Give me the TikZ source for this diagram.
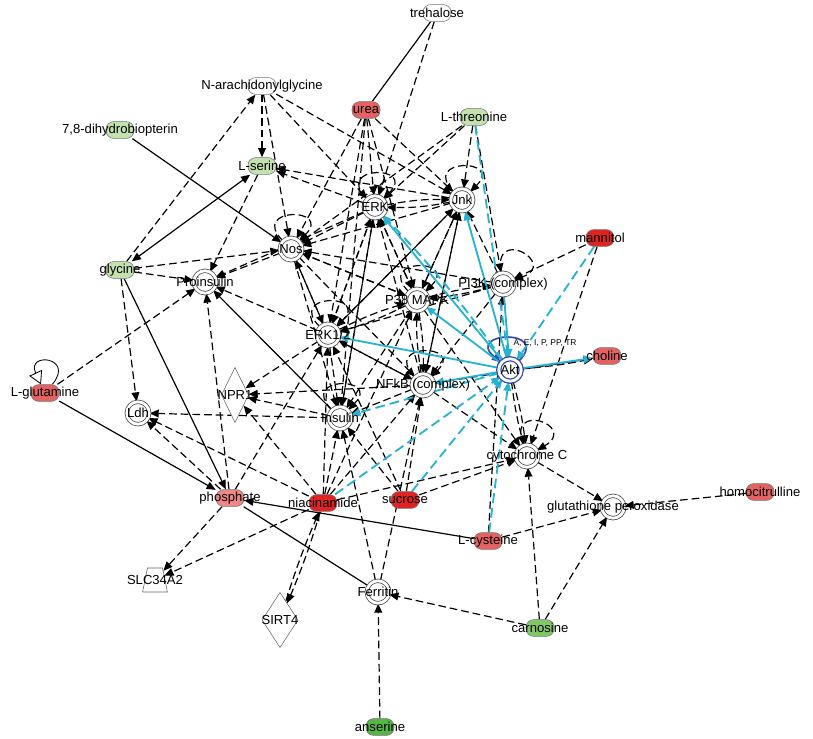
\documentclass[tikz,border=0pt]{standalone}
\usepackage{fontspec}
\setmainfont{Liberation Sans}
\usetikzlibrary{shapes,shapes.geometric,arrows.meta,backgrounds}
\definecolor{netred}{HTML}{E02424}
\definecolor{netsalmon}{HTML}{E46262}
\definecolor{netpink}{HTML}{F08686}
\definecolor{netpale}{HTML}{C4E2B0}
\definecolor{netgreen}{HTML}{80C865}
\definecolor{netdkgreen}{HTML}{55B545}
\definecolor{netcyan}{HTML}{25B3D1}
\definecolor{netblue}{HTML}{3A48B0}

\begin{document}
\begin{tikzpicture}[x=0.025cm, y=0.025cm, font=\fontsize{9.3}{11}\selectfont,
    >={Triangle[length=6.5pt, width=5.5pt]},
    chem/.style={rectangle, rounded corners=5.5pt, draw=black!55, minimum width=0.7cm, minimum height=0.42cm, inner sep=0pt},
    prot/.style={circle, draw=black!75, fill=white, double, double distance=2pt, line width=0.5pt, minimum size=0.56cm, inner sep=0pt},
    rel/.style={->, black, line width=0.85pt, dash pattern=on 5.5pt off 2.8pt},
    link/.style={black, line width=0.85pt},
    aktline/.style={->, netcyan, line width=1.3pt},
    aktdash/.style={->, netcyan, line width=1.3pt, dash pattern=on 7pt off 3.5pt},
    selfloop/.style={rel, out=135, in=45, looseness=1, min distance=1.2cm}]
    \useasboundingbox (0,0) rectangle (813,738);

    % Chemicals
    \node[chem, fill=white, label=center:{trehalose}] (treh) at (437,725) {};
    \node[chem, fill=white, label=center:{N-arachidonylglycine}] (nag) at (262,652) {};
    \node[chem, fill=netsalmon, label=center:{urea}] (urea) at (366,628) {};
    \node[chem, fill=netpale, label=center:{L-threonine}] (thr) at (474,621) {};
    \node[chem, fill=netpale, label=center:{7,8-dihydrobiopterin}] (dhb) at (120,608) {};
    \node[chem, fill=netpale, label=center:{L-serine}] (ser) at (262,572) {};
    \node[chem, fill=netpale, label=center:{glycine}] (gly) at (120,468) {};
    \node[chem, fill=netred, label=center:{mannitol}] (mann) at (600,500) {};
    \node[chem, fill=netsalmon, label=center:{choline}] (chol) at (607,382) {};
    \node[chem, fill=netsalmon, label=center:{L-glutamine}] (gln) at (45,345) {};
    \node[chem, fill=netpink, label=center:{phosphate}] (phos) at (230,240) {};
    \node[chem, fill=netred, label=center:{niacinamide}] (niac) at (323,235) {};
    \node[chem, fill=netred, label=center:{sucrose}] (sucr) at (405,238) {};
    \node[chem, fill=netsalmon, label=center:{L-cysteine}] (cys) at (488,197) {};
    \node[chem, fill=netsalmon, label=center:{homocitrulline}] (hcit) at (760,246) {};
    \node[chem, fill=netgreen, label=center:{carnosine}] (carn) at (540,110) {};
    \node[chem, fill=netdkgreen, label=center:{anserine}] (anser) at (380,11) {};

    % Proteins and complexes
    \node[prot, label=center:{ERK}] (erk) at (375,531) {};
    \node[prot, label=center:{Jnk}] (jnk) at (462,538) {};
    \node[prot, label=center:{Nos}] (nos) at (291,489) {};
    \node[prot, label=center:{Proinsulin}] (proins) at (205,456) {};
    \node[prot, label=center:{PI3K (complex)}] (pi3k) at (503,454) {};
    \node[prot, label=center:{P38 MAPK}] (p38) at (417,438) {};
    \node[prot, label=center:{ERK1/2}] (erk12) at (328,403) {};
    \node[prot, draw=netblue, line width=0.9pt, label=center:{Akt}] (akt) at (510,368) {};
    \node[font=\fontsize{6}{7}\selectfont] (aktsites) at (545,395) {A, E, I, P, PP, TR};
    \node[prot, label=center:{NFkB (complex)}] (nfkb) at (423,353) {};
    \node[prot, label=center:{Ldh}] (ldh) at (138,325) {};
    \node[prot, label=center:{Insulin}] (ins) at (340,320) {};
    \node[prot, label=center:{cytochrome C}] (cytc) at (527,282) {};
    \node[prot, label=center:{glutathione peroxidase}] (gpx) at (613,231) {};
    \node[prot, label=center:{Ferritin}] (ferr) at (378,146) {};
    \node[diamond, draw=black!60, fill=white, minimum width=0.68cm, minimum height=1.38cm, inner sep=0pt, label=center:{NPR1}] (npr1) at (235,343) {};
    \node[diamond, draw=black!60, fill=white, minimum width=0.9cm, minimum height=1.38cm, inner sep=0pt, label=center:{SIRT4}] (sirt4) at (280,118) {};
    \node[trapezium, draw=black!60, fill=white, trapezium left angle=72, trapezium right angle=72, trapezium stretches=true, minimum width=0.62cm, minimum height=0.6cm, inner sep=1pt, label=center:{SLC34A2}] (slc) at (155,158) {};

    \begin{scope}[on background layer]
    % Plain links
    \draw[link] (treh) -- (urea);
    \draw[link, ->] (dhb) -- (nos);
    \draw[link, <->] (gly) -- (ser);
    \draw[link, ->] (gly) -- (phos);
    \draw[link, ->] (gln) -- (phos);
    \draw[link, ->] (cys) -- (phos);
    \draw[link] (phos) -- (ferr);
    \draw[link, ->] (ins) -- (proins);
    \draw[black, line width=0.6pt, -{Triangle[open, length=9pt, width=10pt]}] (gln) to[out=50, in=115, looseness=1, min distance=0.9cm] (gln);

    % Self loops
    \draw[selfloop] (erk) to (erk);
    \draw[selfloop] (jnk) to (jnk);
    \draw[selfloop] (nos) to (nos);
    \draw[selfloop] (p38) to (p38);
    \draw[selfloop] (erk12) to (erk12);
    \draw[selfloop] (nfkb) to (nfkb);
    \draw[selfloop] (ins) to (ins);
    \draw[selfloop, out=100, in=20] (pi3k) to (pi3k);
    \draw[selfloop, out=110, in=30] (cytc) to (cytc);
    \draw[->, netblue, line width=1.2pt, out=45, in=140, looseness=1, min distance=1.2cm] (akt) to (akt);

    % Upper chemicals
    \draw[rel] (gly) -- (nag);
    \draw[rel] (nag) -- (ser);
    \draw[rel] (nag) -- (nos);
    \draw[rel] (nag) -- (erk);
    \draw[rel] (nag) -- (jnk);
    \draw[rel] (treh) -- (erk);
    \draw[rel] (urea) -- (erk);
    \draw[rel] (urea) -- (jnk);
    \draw[rel] (urea) -- (nos);
    \draw[rel] (urea) -- (p38);
    \draw[rel] (urea) -- (erk12);
    \draw[rel] (urea) -- (ins);
    \draw[rel] (thr) -- (erk);
    \draw[rel] (thr) -- (jnk);
    \draw[rel] (thr) -- (nos);
    \draw[rel] (thr) -- (pi3k);
    \draw[rel] (jnk) -- (ser);
    \draw[rel] (erk) -- (ser);
    \draw[rel] (ser) -- (proins);
    \draw[rel] (gly) -- (proins);
    \draw[rel] (gly) -- (nos);
    \draw[rel] (gly) -- (ldh);
    \draw[rel] (gln) -- (proins);
    \draw[rel] (phos) -- (proins);

    % Protein relations
    \draw[rel] (nos) -- (proins);
    \draw[rel] (erk) -- (proins);
    \draw[rel] (erk12) -- (proins);
    \draw[rel] (erk) -- (nos);
    \draw[rel] (jnk) -- (nos);
    \draw[rel] (p38) -- (nos);
    \draw[rel] (erk12) -- (nos);
    \draw[rel] (pi3k) -- (nos);
    \draw[rel, bend left=6] (jnk) to (erk);
    \draw[rel, bend left=6] (erk) to (jnk);
    \draw[rel] (p38) -- (erk);
    \draw[rel] (erk12) -- (erk);
    \draw[rel] (nfkb) -- (erk);
    \draw[rel] (ins) -- (erk);
    \draw[rel] (p38) -- (jnk);
    \draw[rel] (erk12) -- (jnk);
    \draw[rel] (nfkb) -- (jnk);
    \draw[rel] (pi3k) -- (jnk);
    \draw[rel] (nos) -- (p38);
    \draw[rel] (erk) -- (p38);
    \draw[rel] (jnk) -- (p38);
    \draw[rel, bend left=4] (pi3k) to (p38);
    \draw[rel, bend left=4] (p38) to (pi3k);
    \draw[rel, bend left=5] (erk12) to (p38);
    \draw[rel, bend left=5] (p38) to (erk12);
    \draw[rel, bend left=5] (nfkb) to (p38);
    \draw[rel, bend left=5] (p38) to (nfkb);
    \draw[rel] (nos) -- (erk12);
    \draw[rel] (erk) -- (erk12);
    \draw[rel] (jnk) -- (erk12);
    \draw[rel] (pi3k) -- (erk12);
    \draw[rel] (nfkb) -- (erk12);
    \draw[rel] (erk12) -- (nfkb);
    \draw[rel] (nos) -- (nfkb);
    \draw[rel] (jnk) -- (nfkb);
    \draw[rel] (pi3k) -- (nfkb);
    \draw[rel] (chol) -- (nfkb);
    \draw[rel] (erk12) -- (ins);
    \draw[rel] (nfkb) -- (ins);
    \draw[rel] (p38) -- (ins);
    \draw[rel] (nos) -- (ins);
    \draw[rel] (erk) -- (ins);
    \draw[rel] (erk12) -- (npr1);
    \draw[rel] (nfkb) -- (npr1);
    \draw[rel] (ins) -- (npr1);
    \draw[rel] (ins) -- (ldh);

    % Lower chemicals
    \draw[rel] (phos) -- (ldh);
    \draw[rel] (niac) -- (ldh);
    \draw[rel] (phos) -- (erk12);
    \draw[rel] (phos) -- (slc);
    \draw[rel] (niac) -- (slc);
    \draw[rel, bend left=3] (niac) to (sirt4);
    \draw[rel, bend left=3] (sirt4) to (niac);
    \draw[rel] (niac) -- (ins);
    \draw[rel] (niac) -- (npr1);
    \draw[rel] (niac) -- (nfkb);
    \draw[rel] (niac) -- (p38);
    \draw[rel] (niac) -- (erk12);
    \draw[rel] (niac) -- (cytc);
    \draw[rel] (sucr) -- (ins);
    \draw[rel] (sucr) -- (nfkb);
    \draw[rel] (sucr) -- (cytc);
    \draw[rel] (sucr) -- (erk12);
    \draw[rel] (ferr) -- (ins);
    \draw[rel] (ferr) -- (nfkb);
    \draw[rel] (anser) -- (ferr);
    \draw[rel] (carn) -- (ferr);
    \draw[rel] (carn) -- (cytc);
    \draw[rel] (carn) -- (gpx);
    \draw[rel] (cytc) -- (gpx);
    \draw[rel] (cys) -- (gpx);
    \draw[rel] (hcit) -- (gpx);
    \draw[rel] (cys) -- (pi3k);
    \draw[rel] (mann) -- (pi3k);
    \draw[rel] (mann) -- (cytc);
    \draw[rel, bend left=4] (akt) to (cytc);
    \draw[rel, bend right=4] (akt) to (cytc);
    \draw[rel] (nfkb) -- (cytc);
    \draw[rel] (p38) -- (cytc);
    \draw[rel, bend right=3] (akt) to (chol);

    % Akt relations
    \draw[aktdash] (thr) -- (akt);
    \draw[aktline] (akt) -- (jnk);
    \draw[aktline] (akt) -- (erk);
    \draw[aktdash, bend right=4] (akt) to (erk);
    \draw[aktline] (akt) -- (p38);
    \draw[aktline] (akt) -- (erk12);
    \draw[aktline] (akt) -- (nfkb);
    \draw[aktdash] (akt) -- (ins);
    \draw[aktline] (pi3k) -- (akt);
    \draw[aktline] (akt) -- (chol);
    \draw[aktdash] (mann) -- (akt);
    \draw[aktdash] (niac) -- (akt);
    \draw[aktdash] (sucr) -- (akt);
    \draw[aktdash] (cys) -- (akt);
    \end{scope}
\end{tikzpicture}
\end{document}
